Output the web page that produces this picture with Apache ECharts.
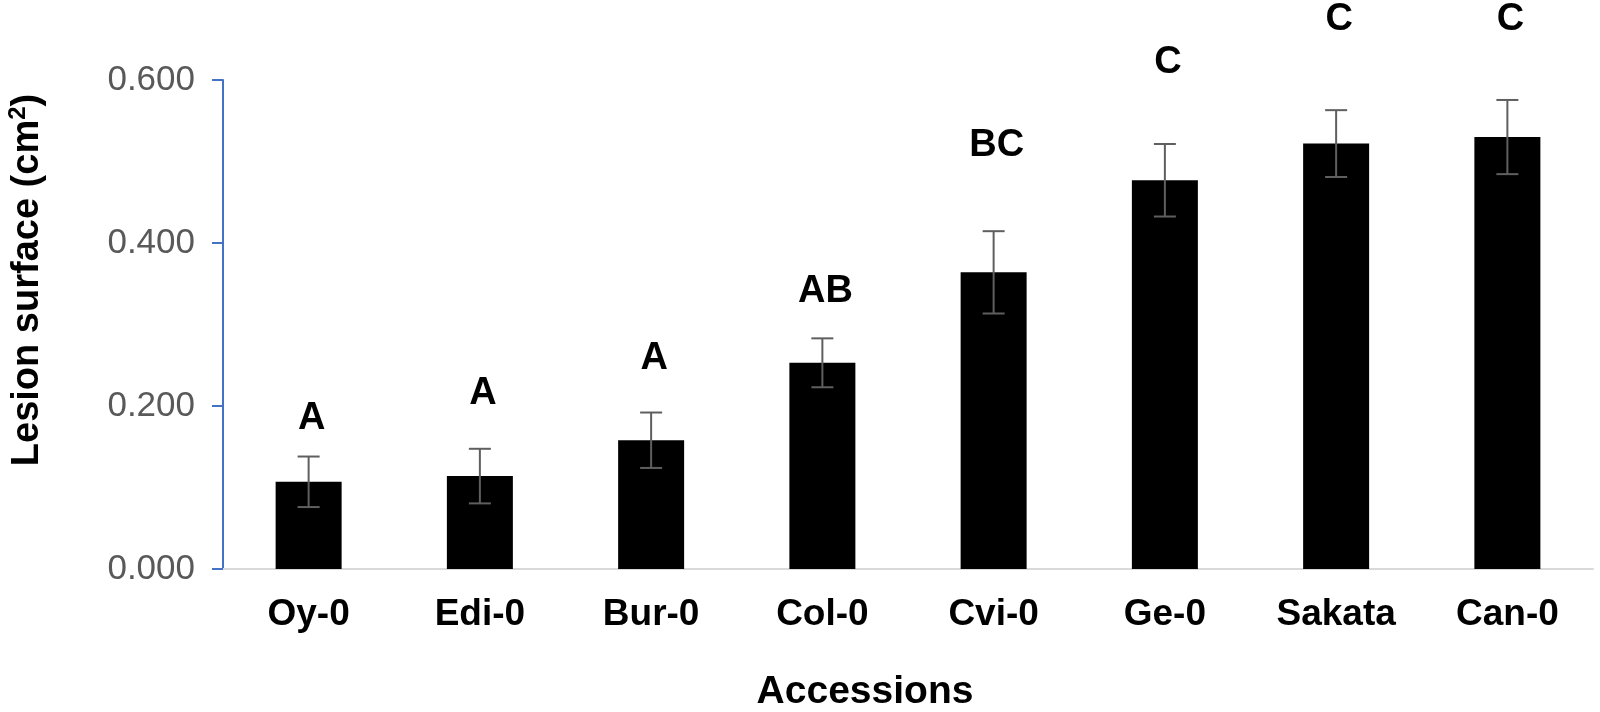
<!DOCTYPE html>
<html>
<head>
<meta charset="utf-8">
<title>Lesion surface by accession</title>
<script src="https://cdn.jsdelivr.net/npm/echarts@6/dist/echarts.min.js"></script>
<style>
  html, body { margin: 0; padding: 0; background: #fff; }
  #chart { width: 1600px; height: 712px; }
</style>
</head>
<body>
<div id="chart"></div>
<script>
// values
const accessions = ['Oy-0', 'Edi-0', 'Bur-0', 'Col-0', 'Cvi-0', 'Ge-0', 'Sakata', 'Can-0']
const lesionMean = [0.107, 0.114, 0.158, 0.253, 0.364, 0.477, 0.522, 0.530]
const lesionErr = [0.031, 0.0335, 0.034, 0.030, 0.0505, 0.0445, 0.041, 0.0455]
const groupLetters = ['A', 'A', 'A', 'AB', 'BC', 'C', 'C', 'C']
const letterHeight = [0.185, 0.215, 0.258, 0.341, 0.519, 0.622, 0.674, 0.674]
const yTicks = [0, 0.2, 0.4, 0.6]

const FONT = 'Liberation Sans, Arial, sans-serif'

const chart = echarts.init(document.getElementById('chart'))

// error bar data: [index, low, high]
const errData = lesionMean.map((m, i) => [i, m - lesionErr[i], m + lesionErr[i]])
const letterData = letterHeight.map((h, i) => [i, h])

const option = {
    animation: false,
    backgroundColor: '#fff',
    grid: { left: 223, right: 7, top: 80, bottom: 143, containLabel: false },
    xAxis: {
        type: 'category',
        data: accessions,
        axisLine: { lineStyle: { color: '#d9d9d9', width: 2 } },
        axisTick: { show: false },
        axisLabel: {
            color: '#000', fontFamily: FONT, fontWeight: 'bold', fontSize: 37, margin: 27
        }
    },
    yAxis: {
        type: 'value',
        min: yTicks[0],
        max: yTicks[yTicks.length - 1],
        interval: 0.2,
        axisLine: { show: true, lineStyle: { color: '#4472c4', width: 2 } },
        axisTick: { show: true, length: 11, lineStyle: { color: '#4472c4', width: 2 } },
        splitLine: { show: false },
        axisLabel: {
            color: '#595959', fontFamily: FONT, fontSize: 35, margin: 28,
            formatter: v => v.toFixed(3)
        }
    },
    graphic: [
        {
            type: 'text',
            x: 28, y: 280,
            rotation: Math.PI / 2,
            style: {
                text: '{t|Lesion surface (cm}{s|2}{t|)}',
                align: 'center', verticalAlign: 'middle',
                rich: {
                    t: { fontFamily: FONT, fontWeight: 'bold', fontSize: 38, fill: '#000', lineHeight: 44 },
                    s: { fontFamily: FONT, fontWeight: 'bold', fontSize: 24, fill: '#000', verticalAlign: 'top', lineHeight: 44 }
                }
            }
        },
        {
            type: 'text',
            x: 865, y: 692,
            style: {
                text: 'Accessions',
                align: 'center', verticalAlign: 'middle',
                fontFamily: FONT, fontWeight: 'bold', fontSize: 39, fill: '#000'
            }
        }
    ],
    series: [
        {
            type: 'bar',
            data: lesionMean,
            barWidth: 66,
            itemStyle: { color: '#000' }
        },
        {
            type: 'custom',
            data: errData,
            z: 10,
            renderItem: (params, api) => {
                const i = api.value(0)
                const lo = api.coord([i, api.value(1)])
                const hi = api.coord([i, api.value(2)])
                const hw = 11
                const style = { stroke: '#5f5f5f', lineWidth: 2 }
                return {
                    type: 'group',
                    children: [
                        { type: 'line', shape: { x1: hi[0], y1: hi[1], x2: lo[0], y2: lo[1] }, style },
                        { type: 'line', shape: { x1: hi[0] - hw, y1: hi[1], x2: hi[0] + hw, y2: hi[1] }, style },
                        { type: 'line', shape: { x1: lo[0] - hw, y1: lo[1], x2: lo[0] + hw, y2: lo[1] }, style }
                    ]
                }
            }
        },
        {
            type: 'custom',
            data: letterData,
            clip: false,
            renderItem: (params, api) => {
                const p = api.coord([api.value(0), api.value(1)])
                return {
                    type: 'text',
                    x: p[0] + 3, y: p[1],
                    style: {
                        text: groupLetters[params.dataIndex],
                        align: 'center', verticalAlign: 'middle',
                        fontFamily: FONT, fontWeight: 'bold', fontSize: 38, fill: '#000'
                    }
                }
            }
        }
    ]
}

chart.setOption(option)
</script>
</body>
</html>
